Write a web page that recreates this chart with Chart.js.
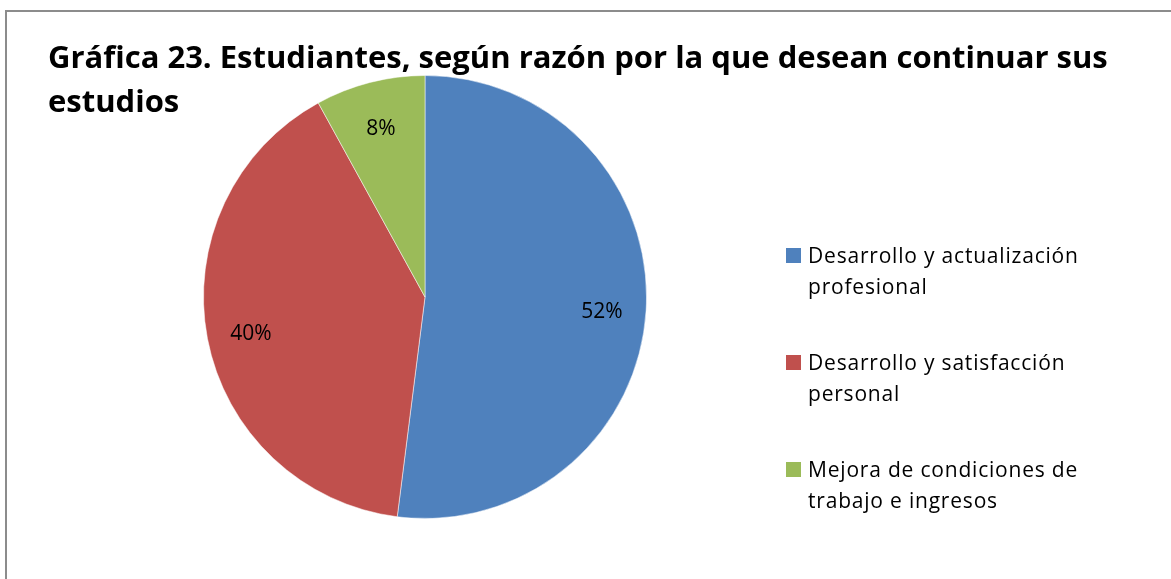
<!DOCTYPE html>
<html lang="es">
<head>
<meta charset="utf-8">
<title>Gráfica 23</title>
<script src="https://cdn.jsdelivr.net/npm/chart.js@4.4.1/dist/chart.umd.min.js"></script>
<style>
  html, body { margin: 0; padding: 0; background: #fff; }
  #wrap { position: relative; width: 1171px; height: 579px; overflow: hidden; font-family: "Open Sans", sans-serif; }
  #frame { position: absolute; left: 5px; top: 10px; width: 1200px; height: 600px; border: 2px solid #8c8c8c; box-sizing: border-box; }
  #chart { position: absolute; left: 0; top: 0; }
  #title { position: absolute; left: 48px; top: 34px; font-weight: bold; font-size: 31px; line-height: 44px; color: #000; width: 1110px; }
  #legend { position: absolute; left: 786px; top: 240px; }
  .item { position: relative; height: 107px; }
  .swatch { position: absolute; left: 0; top: 8px; width: 15px; height: 15px; }
  .label { position: absolute; left: 22px; top: 0; width: 310px; font-size: 21px; line-height: 31px; letter-spacing: 0.8px; color: #000; }
</style>
</head>
<body>
<div id="wrap">
  <div id="frame"></div>
  <canvas id="chart" width="1171" height="579"></canvas>
  <div id="title"></div>
  <div id="legend"></div>
</div>
<script>
const chartTitle = 'Gráfica 23. Estudiantes, según razón por la que desean continuar sus estudios';
const categories = [
  'Desarrollo y actualización profesional',
  'Desarrollo y satisfacción personal',
  'Mejora de condiciones de trabajo e ingresos'
];
const percentages = [52, 40, 8];
const sliceColors = ['#4f81bd', '#c0504d', '#9bbb59'];

document.getElementById('title').textContent = chartTitle;

// legend on the right, built from the same arrays
const legendEl = document.getElementById('legend');
categories.forEach((name, i) => {
  const item = document.createElement('div');
  item.className = 'item';
  const swatch = document.createElement('div');
  swatch.className = 'swatch';
  swatch.style.background = sliceColors[i];
  const label = document.createElement('div');
  label.className = 'label';
  label.textContent = name;
  item.appendChild(swatch);
  item.appendChild(label);
  legendEl.appendChild(item);
});

// percent labels inside each slice
const sliceLabels = {
  id: 'sliceLabels',
  afterDatasetsDraw(chart) {
    const { ctx } = chart;
    const meta = chart.getDatasetMeta(0);
    ctx.save();
    ctx.font = '21px "Open Sans", sans-serif';
    ctx.fillStyle = '#000';
    ctx.textAlign = 'center';
    ctx.textBaseline = 'middle';
    meta.data.forEach((arc, i) => {
      const { x, y, startAngle, endAngle, outerRadius } = arc.getProps(['x', 'y', 'startAngle', 'endAngle', 'outerRadius'], true);
      const mid = (startAngle + endAngle) / 2;
      const r = outerRadius * 0.8;
      ctx.fillText(percentages[i] + '%', x + Math.cos(mid) * r, y + Math.sin(mid) * r + 4);
    });
    ctx.restore();
  }
};

new Chart(document.getElementById('chart'), {
  type: 'pie',
  data: {
    labels: categories,
    datasets: [{
      data: percentages,
      backgroundColor: sliceColors,
      borderColor: 'rgba(255, 255, 255, 0.5)',
      borderWidth: 1,
      hoverOffset: 0
    }]
  },
  options: {
    responsive: false,
    animation: false,
    events: [],
    layout: {
      padding: { left: 203, right: 524, top: 75, bottom: 60 }
    },
    plugins: {
      legend: { display: false },
      title: { display: false },
      tooltip: { enabled: false }
    }
  },
  plugins: [sliceLabels]
});
</script>
</body>
</html>
